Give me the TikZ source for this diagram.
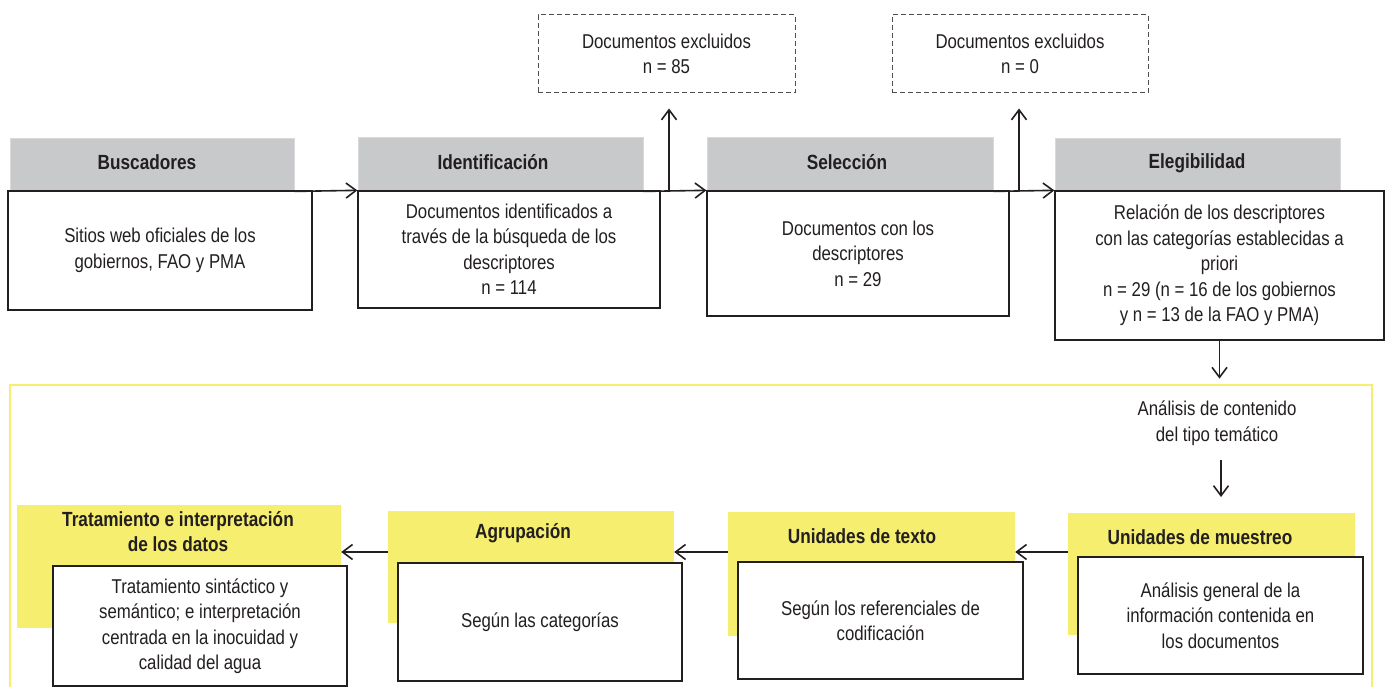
\documentclass[tikz,border=0pt]{standalone}
\usepackage{fontspec}
\setmainfont{Liberation Sans}[FakeStretch=0.84]
\usetikzlibrary{arrows.meta}
\definecolor{hdrgray}{RGB}{200,201,203}
\definecolor{hdryel}{RGB}{245,238,110}
\definecolor{lin}{RGB}{35,31,32}
\begin{document}
\begin{tikzpicture}[x=1pt,y=-1pt,
  txt/.style={font=\fontsize{20}{25.5}\selectfont, text=lin, align=center},
  ttl/.style={font=\fontsize{20.5}{25.5}\selectfont\bfseries, text=lin, align=center},
  box/.style={txt, draw=lin, line width=1.3pt, fill=white, inner sep=0pt},
  ghdr/.style={fill=hdrgray, draw=hdrgray!70!white, line width=0.8pt, inner sep=0pt},
  yhdr/.style={fill=hdryel, draw=none, inner sep=0pt},
  excl/.style={txt, draw=lin!80, dashed, dash pattern=on 5pt off 3pt, line width=1pt, inner sep=0pt},
  arr/.style={draw=lin, line width=1.6pt, -{Straight Barb[length=10pt,width=15pt,line width=1.6pt]}},
  sz/.style n args={2}{minimum width=#1pt, minimum height=#2pt}
]
\useasboundingbox (0,0) rectangle (1386,687);
\fill[white] (0,0) rectangle (1386,687);

% yellow frame
\draw[hdryel, line width=2pt] (10,385) rectangle (1372,720);

% headers top row
\node[ghdr, sz={284}{53}] (h1) at (152,164.5) {};
\node[ghdr, sz={285}{54}] (h2) at (500.5,164) {};
\node[ghdr, sz={286}{54}] (h3) at (850,164) {};
\node[ghdr, sz={285}{53}] (h4) at (1197.5,164.5) {};

\node[ttl] (t1) at (147,162) {Buscadores};
\node[ttl] (t2) at (493,162) {Identificación};
\node[ttl] (t3) at (847,162) {Selección};
\node[ttl] (t4) at (1197,163) {Elegibilidad};

% boxes top row
\node[box, sz={304}{119}] (b1) at (160,250.5) {Sitios web oficiales de los\\gobiernos, FAO y PMA};
\node[box, sz={302}{117}] (b2) at (509,249.5) {Documentos identificados a\\través de la búsqueda de los\\descriptores\\n = 114};
\node[box, sz={302}{125}] (b3) at (858,253.5) {Documentos con los\\descriptores\\n = 29};
\node[box, sz={329}{149}] (b4) at (1219.5,265.5) {Relación de los descriptores\\con las categorías establecidas a\\priori\\n = 29 (n = 16 de los gobiernos\\y n = 13 de la FAO y PMA)};

% excluded boxes
\node[excl, sz={257}{78}] (e1) at (666.5,54) {Documentos excluidos\\n = 85};
\node[excl, sz={256}{78}] (e2) at (1020,54) {Documentos excluidos\\n = 0};

% top connectors
\draw[arr] (h1.south east) -- (b2.north west);
\draw[arr] (h2.south east) -- (b3.north west);
\draw[arr] (h3.south east) -- (b4.north west);
\draw[arr] ([xshift=2.5pt]e1.south |- h2.south) -- ([xshift=2.5pt,yshift=-15pt]e1.south);
\draw[arr] ([xshift=-1pt]e2.south |- h3.south) -- ([xshift=-1pt,yshift=-15pt]e2.south);
\coordinate (d1) at ([yshift=-38pt]b4.south);
\draw[arr] (b4.south) -- (d1);

% analysis text
\node[txt] (ana) at (1217,423) {Análisis de contenido\\del tipo temático};
\coordinate (a1) at (1221,460);
\coordinate (a2) at (1221,497);
\draw[arr] (a1) -- (a2);

% bottom row headers
\node[yhdr, sz={324}{123}] (h5) at (179,566.5) {};
\node[yhdr, sz={286}{112}] (h6) at (531,567) {};
\node[yhdr, sz={287}{124}] (h7) at (871.5,574) {};
\node[yhdr, sz={287}{122}] (h8) at (1211.5,574) {};

\node[ttl] (t5) at (178,531.5) {Tratamiento e interpretación\\de los datos};
\node[ttl] (t6) at (523,533) {Agrupación};
\node[ttl] (t7) at (862,536) {Unidades de texto};
\node[ttl] (t8) at (1200,537) {Unidades de muestreo};

% bottom row boxes
\node[box, sz={294}{120}] (b5) at (200,626) {Tratamiento sintáctico y\\semántico; e interpretación\\centrada en la inocuidad y\\calidad del agua};
\node[box, sz={284}{118}] (b6) at (540,622) {Según las categorías};
\node[box, sz={285}{117}] (b7) at (880.5,620.5) {Según los referenciales de\\codificación};
\node[box, sz={285}{117}] (b8) at (1220.5,615.5) {Análisis general de la\\información contenida en\\los documentos};

% bottom connectors
\coordinate (rowB) at (0,552);
\draw[arr] (h8.west |- rowB) -- (h7.east |- rowB);
\draw[arr] (h7.west |- rowB) -- (h6.east |- rowB);
\draw[arr] (h6.west |- rowB) -- (h5.east |- rowB);
\end{tikzpicture}
\end{document}
